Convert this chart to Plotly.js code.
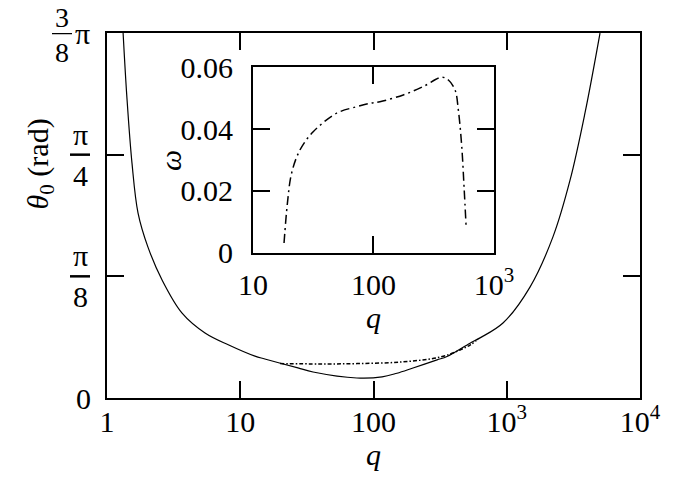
<!DOCTYPE html>
<html>
<head>
<meta charset="utf-8">
<script src="https://cdn.plot.ly/plotly-3.0.1.min.js"></script>
<style>
  body { margin: 0; background: white; }
  #chart { width: 697px; height: 485px; }
</style>
</head>
<body>
<div id="chart"></div>
<script>
// Hauptkurve theta_0(q), durchgezogen
const solidQ = [1.32, 1.41, 1.54, 1.71, 2.03, 2.59, 3.66, 5.44, 8.2, 12.9, 15.3, 27.1, 35.2, 75, 116, 150, 198, 300, 356, 530, 630, 937, 1494, 2222, 2985, 3866, 5012];
const solidTheta = [1.18, 0.971, 0.758, 0.597, 0.487, 0.381, 0.274, 0.210, 0.171, 0.135, 0.126, 0.097, 0.084, 0.0645, 0.068, 0.080, 0.097, 0.123, 0.134, 0.177, 0.194, 0.242, 0.358, 0.520, 0.703, 0.920, 1.178];

// zweiter Ast (strich-punktiert)
const dashQ = [19.9, 39.7, 75, 158, 316, 446, 530, 590];
const dashTheta = [0.111, 0.110, 0.111, 0.116, 0.132, 0.155, 0.171, 0.185];

// Inset: omega(q)
const omegaQ = [18.1, 19.3, 20.9, 24.5, 31.6, 49.5, 72.6, 93.6, 113, 176.6, 259, 368, 418, 475, 506, 540, 564, 586];
const omega = [0.0032, 0.0160, 0.0257, 0.0332, 0.0391, 0.0451, 0.0472, 0.0483, 0.0488, 0.0510, 0.0537, 0.0567, 0.0558, 0.0526, 0.0461, 0.0343, 0.0214, 0.0090];

// Achsenbeschriftungen
const mainXTicks = [1, 10, 100, 1000, 10000];
const mainXText = ["1", "10", "100", "10<sup>3</sup>", "10<sup>4</sup>"];
const mainYTicks = [0, Math.PI / 8, Math.PI / 4, 3 * Math.PI / 8];
const mainYNum = ["", "π", "π", "3"];
const mainYDen = ["", "8", "4", "8"];
const insetXTicks = [10, 100, 1000];
const insetXText = ["10", "100", "10<sup>3</sup>"];
const insetYTicks = [0, 0.02, 0.04, 0.06];
const insetYText = ["0", "0.02", "0.04", "0.06"];

const FONT = "Liberation Serif";

const solidTrace = {
    x: solidQ, y: solidTheta, xaxis: "x", yaxis: "y",
    type: "scatter", mode: "lines",
    line: { color: "black", width: 1.2, shape: "spline", smoothing: 1 },
};

const dashTrace = {
    x: dashQ, y: dashTheta, xaxis: "x", yaxis: "y",
    type: "scatter", mode: "lines",
    line: { color: "black", width: 1.5, dash: "4px,2px,1.5px,2px", shape: "spline", smoothing: 1 },
};

const omegaTrace = {
    x: omegaQ, y: omega, xaxis: "x2", yaxis: "y2",
    type: "scatter", mode: "lines",
    line: { color: "black", width: 1.5, dash: "9px,4px,2px,4px", shape: "spline", smoothing: 1 },
};

// gemeinsame Achsen-Einstellungen
function axisStyle(extra) {
    return Object.assign({
        ticks: "inside", ticklen: 17, tickwidth: 2, tickcolor: "black",
        showline: true, linewidth: 2, linecolor: "black", mirror: "allticks",
        showgrid: false, zeroline: false,
        tickfont: { family: FONT, size: 30, color: "black" },
    }, extra);
}

// Brueche an der y-Achse als Annotationen + Linien
const annotations = [];
const shapes = [];
mainYTicks.forEach((v, i) => {
    if (!mainYNum[i]) return;
    const top = i === 3;
    const cx = top ? -45 : -27;
    annotations.push({
        xref: "paper", yref: "y", x: 0, y: v, xshift: cx, yshift: top ? -2 : 2,
        text: mainYNum[i], showarrow: false, yanchor: "bottom", xanchor: "center",
        font: { family: FONT, size: top ? 28 : 30, color: "black" },
    });
    annotations.push({
        xref: "paper", yref: "y", x: 0, y: v, xshift: cx, yshift: -2,
        text: mainYDen[i], showarrow: false, yanchor: "top", xanchor: "center",
        font: { family: FONT, size: top ? 28 : 30, color: "black" },
    });
    shapes.push({
        type: "line", xref: "paper", yref: "y", xsizemode: "pixel", xanchor: 0,
        x0: cx - 10, x1: cx + 10, y0: v, y1: v,
        line: { color: "black", width: 2.5 },
    });
});
// pi hinter 3/8
annotations.push({
    xref: "paper", yref: "y", x: 0, y: 3 * Math.PI / 8, xshift: -25, yshift: 0,
    text: "π", showarrow: false, yanchor: "middle", xanchor: "center",
    font: { family: FONT, size: 30, color: "black" },
});
// y-Titel der Hauptachse
annotations.push({
    xref: "paper", yref: "paper", x: 0, y: 0.64, xshift: -67,
    text: "<i>θ</i><sub>0</sub> (rad)", showarrow: false, textangle: -90,
    xanchor: "center", yanchor: "middle",
    font: { family: FONT, size: 30, color: "black" },
});
// y-Titel des Insets
annotations.push({
    xref: "paper", yref: "paper", x: 0.118, y: 0.652,
    text: "<i>ω</i>", showarrow: false, textangle: -90,
    xanchor: "center", yanchor: "middle",
    font: { family: FONT, size: 30, color: "black" },
});

const layout = {
    width: 697, height: 485,
    margin: { l: 107, r: 57, t: 33, b: 87 },
    paper_bgcolor: "white", plot_bgcolor: "white",
    font: { family: FONT, size: 30, color: "black" },
    showlegend: false,
    xaxis: axisStyle({
        type: "log", range: [0, 4], tickvals: mainXTicks, ticktext: mainXText,
        ticklabelstandoff: -4,
        title: { text: "<i>q</i>", standoff: 6, font: { family: FONT, size: 30 } },
    }),
    yaxis: axisStyle({
        range: [0, 3 * Math.PI / 8], tickvals: mainYTicks, ticktext: ["0", "", "", ""],
        ticklabelstandoff: 8,
    }),
    xaxis2: axisStyle({
        type: "log", range: [1, 3], domain: [0.2739, 0.7261], anchor: "y2",
        tickvals: insetXTicks, ticktext: insetXText, ticklabelstandoff: 4,
        title: { text: "<i>q</i>", standoff: 4, font: { family: FONT, size: 30 } },
    }),
    yaxis2: axisStyle({
        range: [0, 0.06], domain: [0.3973, 0.9068], anchor: "x2",
        tickvals: insetYTicks, ticktext: insetYText, ticklabelstandoff: 12,
    }),
    annotations: annotations,
    shapes: shapes,
};

Plotly.newPlot("chart", [solidTrace, dashTrace, omegaTrace], layout, { staticPlot: true });
</script>
</body>
</html>
